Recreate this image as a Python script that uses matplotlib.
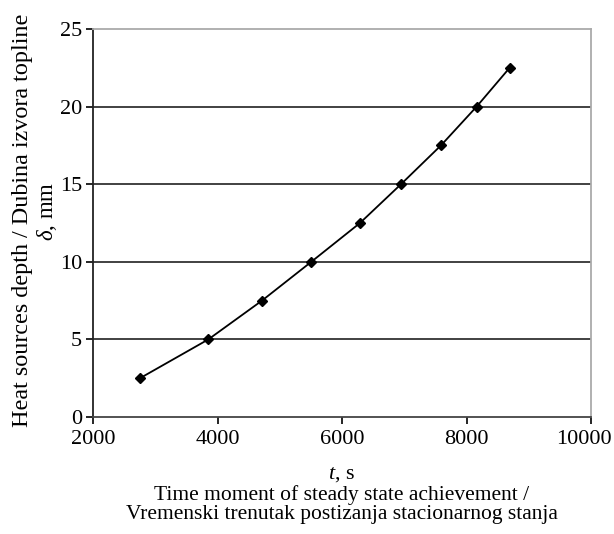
import matplotlib
matplotlib.use("Agg")
import matplotlib.pyplot as plt
import matplotlib.transforms as mtransforms

plt.rcParams['font.family'] = ['Liberation Serif', 'DejaVu Serif']
plt.rcParams['mathtext.fontset'] = 'custom'
plt.rcParams['mathtext.rm'] = 'Liberation Serif'
plt.rcParams['mathtext.it'] = 'Liberation Serif:italic'

t_values = [2755, 3853, 4715, 5507, 6289, 6948, 7590, 8163, 8693]
depth_values = [2.5, 5.0, 7.5, 10.0, 12.5, 15.0, 17.5, 20.0, 22.5]
x_ticks = [2000, 4000, 6000, 8000, 10000]
y_ticks = [0, 5, 10, 15, 20, 25]

fig = plt.figure(figsize=(6.14, 5.34), dpi=100)
ax = fig.add_axes([93/614, 1 - 417/534, 498/614, 388/534])

ax.plot(t_values, depth_values, color='black', linewidth=1.3,
        marker='D', markersize=5, markerfacecolor='black', markeredgecolor='black')

ax.set_xlim(2000, 10000)
ax.set_ylim(0, 25)
ax.set_xticks(x_ticks)
ax.set_yticks(y_ticks)
ax.tick_params(axis='both', labelsize=16, direction='out', length=5, width=1.2, colors='black')
ax.tick_params(axis='y', pad=3)
ax.tick_params(axis='x', pad=4)

# keep the last x tick label inside the figure, as in the reference
last = ax.get_xticklabels()[-1]
last.set_transform(last.get_transform() +
                   mtransforms.ScaledTranslation(-7/100, 0, fig.dpi_scale_trans))

for y in [5, 10, 15, 20]:
    ax.axhline(y, color='#333333', linewidth=1.3, zorder=0)

ax.spines['left'].set_color('#222222')
ax.spines['bottom'].set_color('#444444')
ax.spines['left'].set_linewidth(1.3)
ax.spines['bottom'].set_linewidth(1.3)
ax.spines['top'].set_color('#aaaaaa')
ax.spines['right'].set_color('#aaaaaa')
ax.spines['top'].set_linewidth(1.3)
ax.spines['right'].set_linewidth(1.3)

fig.text(23/614, 1 - 220/534, 'Heat sources depth / Dubina izvora topline',
         rotation=90, ha='center', va='center', fontsize=17.4)
fig.text(47/614, 1 - 211/534, r'$\delta$, mm',
         rotation=90, ha='center', va='center', fontsize=16.5)

fig.text(342/614, 1 - 474/534, r'$t$, s', ha='center', va='center', fontsize=16)
fig.text(342/614, 1 - 495/534, 'Time moment of steady state achievement /',
         ha='center', va='center', fontsize=15.5)
fig.text(342/614, 1 - 515/534, 'Vremenski trenutak postizanja stacionarnog stanja',
         ha='center', va='center', fontsize=15.5)

fig.savefig('out.png', dpi=100)
